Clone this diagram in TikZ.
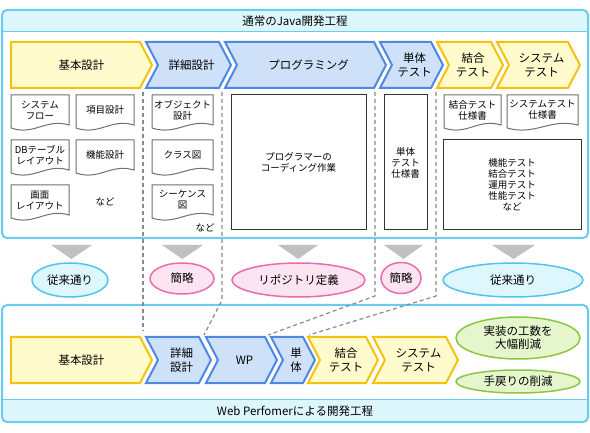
\documentclass[tikz,border=0pt]{standalone}
\usepackage{fontspec}
\setmainfont{Noto Sans CJK JP}
\usetikzlibrary{shapes.geometric}

\definecolor{panelD}{HTML}{66CCF0}
\definecolor{stripF}{HTML}{DDF6FC}
\definecolor{yelF}{HTML}{FFFBCC}
\definecolor{yelD}{HTML}{F4C20D}
\definecolor{bluF}{HTML}{CFE1F9}
\definecolor{bluD}{HTML}{4D88E3}
\definecolor{cyaF}{HTML}{DDF7FD}
\definecolor{cyaD}{HTML}{50C4EE}
\definecolor{pinF}{HTML}{FDE4F3}
\definecolor{pinD}{HTML}{EA6CAB}
\definecolor{grnF}{HTML}{E5F5CC}
\definecolor{grnD}{HTML}{8DC641}
\definecolor{triG}{HTML}{C0C0C0}
\definecolor{dashG}{HTML}{8A8A8A}
\definecolor{docG}{HTML}{707070}
\definecolor{boxG}{HTML}{333333}

\begin{document}
\begin{tikzpicture}[x=1pt,y=-1pt]
    \tikzstyle{panel} = [draw=panelD, line width=2pt, rounded corners=5pt]
    \tikzstyle{chev} = [line width=2pt, line join=miter]
    \tikzstyle{lab} = [align=center, inner sep=0pt, font=\fontsize{11.5}{14}\selectfont]
    \tikzstyle{doc} = [draw=docG, line width=1pt, fill=white]
    \tikzstyle{small} = [align=center, inner sep=0pt, font=\fontsize{9.5}{11}\selectfont]
    \tikzstyle{box} = [small, draw=boxG, line width=1pt, fill=white]
    \tikzstyle{ell} = [ellipse, line width=1.5pt, inner sep=0pt, align=center,
        font=\fontsize{11.5}{13}\selectfont]
    \tikzstyle{tri} = [fill=triG]
    \tikzstyle{cut} = [draw=dashG, line width=1.2pt, dash pattern=on 4pt off 3pt]

    \fill[white] (0,0) rectangle (590,433);
    \useasboundingbox (0,0) rectangle (590,433);

    % upper panel
    \begin{scope}
        \clip (0,0) rectangle (590,32);
        \fill[stripF, rounded corners=5pt] (2,10) rectangle (588,238);
    \end{scope}
    \draw[draw=panelD, line width=1pt] (2,32) -- (588,32);
    \draw[panel] (2,10) rectangle (588,238);
    \node[lab] (top) at (295,21) {通常のJava開発工程};

    % lower panel
    \begin{scope}
        \clip (0,399) rectangle (590,433);
        \fill[stripF, rounded corners=5pt] (2,305) rectangle (588,422);
    \end{scope}
    \draw[draw=panelD, line width=1pt] (2,399) -- (588,399);
    \draw[panel] (2,305) rectangle (588,422);
    \node[lab] (bot) at (295,411) {Web Perfomerによる開発工程};

    % dashed guides
    \coordinate (p1) at (143,92);  \coordinate (q1) at (143,331);
    \coordinate (p2) at (222,92);  \coordinate (m2) at (222,300); \coordinate (q2) at (204,335);
    \coordinate (p3) at (375,92);  \coordinate (m3) at (375,296); \coordinate (q3) at (268,335);
    \coordinate (p4) at (436,92);  \coordinate (m4) at (436,296); \coordinate (q4) at (309,335);
    \draw[cut] (p1) -- (q1);
    \draw[cut] (p2) -- (m2) -- (q2);
    \draw[cut] (p3) -- (m3) -- (q3);
    \draw[cut] (p4) -- (m4) -- (q4);

    % upper chevrons
    \foreach \i/\xl/\xr/\k/\fc/\dc/\txt in {
        1/11/152/0/yelF/yelD/基本設計,
        2/146/231/12/bluF/bluD/詳細設計,
        3/225/386/12/bluF/bluD/プログラミング,
        4/380/443/12/bluF/bluD/{単体\\テスト},
        5/437/503/12/yelF/yelD/{結合\\テスト},
        6/497/580/12/yelF/yelD/{システム\\テスト}}
    {
        \draw[chev, draw=\dc, fill=\fc] (\xl,42) -- ({\xr-12},42) -- (\xr,65)
            -- ({\xr-12},88) -- (\xl,88) -- ({\xl+\k},65) -- cycle;
        \node[lab] (ta\i) at ({(\xl+\xr+\k/2)/2},65) {\txt};
    }

    % lower chevrons
    \foreach \i/\xl/\xr/\k/\fc/\dc/\txt in {
        1/11/152/0/yelF/yelD/基本設計,
        2/146/211/12/bluF/bluD/{詳細\\設計},
        3/206/277/12/bluF/bluD/WP,
        4/271/315/12/bluF/bluD/{単\\体},
        5/308/378/12/yelF/yelD/{結合\\テスト},
        6/373/458/12/yelF/yelD/{システム\\テスト}}
    {
        \draw[chev, draw=\dc, fill=\fc] (\xl,337) -- ({\xr-12},337) -- (\xr,360)
            -- ({\xr-12},383) -- (\xl,383) -- ({\xl+\k},360) -- cycle;
        \node[lab] (wa\i) at ({(\xl+\xr+\k/2)/2},360) {\txt};
    }

    % documents
    \foreach \i/\dx/\dy/\dw/\txt in {
        1/11/95/58/{システム\\フロー},
        2/76/95/58/項目設計,
        3/11/140/58/{DBテーブル\\レイアウト},
        4/76/140/58/機能設計,
        5/11/185/58/{画面\\レイアウト},
        6/152/95/61/{オブジェクト\\設計},
        7/152/140/61/クラス図,
        8/152/185/61/{シーケンス\\図},
        9/444/95/57/{結合テスト\\仕様書},
        10/507/95/71/{システムテスト\\仕様書}}
    {
        \draw[doc] (\dx,\dy) -- ({\dx+\dw},\dy) -- ({\dx+\dw},{\dy+30})
            .. controls ({\dx+0.6*\dw},{\dy+23}) and ({\dx+0.4*\dw},{\dy+41}) .. (\dx,{\dy+33}) -- cycle;
        \node[small] (d\i) at ({\dx+\dw/2},{\dy+15}) {\txt};
    }
    \node[small] (etc1) at (105,202) {など};
    \node[small] (etc2) at (205,228) {など};

    % plain boxes
    \node[box, minimum width=135, minimum height=135] (code) at (298.5,162.5) {プログラマーの\\コーディング作業};
    \node[box, minimum width=43, minimum height=135] (unit) at (405.5,162.5) {単体\\テスト\\仕様書};
    \node[box, minimum width=138, minimum height=90] (tests) at (512,185) {機能テスト\\結合テスト\\運用テスト\\性能テスト\\など};

    % grey pointers
    \fill[tri] (51,245) -- (92,245) -- (71.5,259) -- cycle;
    \fill[tri] (162,245) -- (203,245) -- (182.5,259) -- cycle;
    \fill[tri] (278,245) -- (318,245) -- (298,259) -- cycle;
    \fill[tri] (384,245) -- (423,245) -- (403.5,259) -- cycle;
    \fill[tri] (492,245) -- (535,245) -- (513.5,259) -- cycle;

    % results
    \node[ell, draw=cyaD, fill=cyaF, minimum width=76, minimum height=34] (e1) at (70,280) {従来通り};
    \node[ell, draw=pinD, fill=pinF, minimum width=64, minimum height=31] (e2) at (182,278.5) {簡略};
    \node[ell, draw=pinD, fill=pinF, minimum width=133, minimum height=34] (e3) at (298.5,280) {リポジトリ定義};
    \node[ell, draw=pinD, fill=pinF, minimum width=40, minimum height=31] (e4) at (401,278) {簡略};
    \node[ell, draw=cyaD, fill=cyaF, minimum width=140, minimum height=34] (e5) at (513,280) {従来通り};

    \node[ell, draw=grnD, fill=grnF, minimum width=124, minimum height=42] (g1) at (518,338) {実装の工数を\\大幅削減};
    \node[ell, draw=grnD, fill=grnF, minimum width=124, minimum height=23] (g2) at (518,381.5) {手戻りの削減};
\end{tikzpicture}
\end{document}
